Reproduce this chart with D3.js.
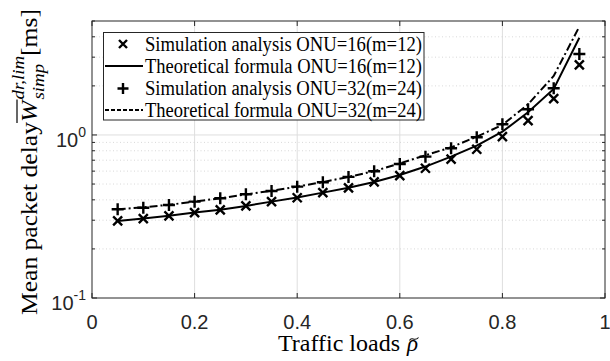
<!DOCTYPE html>
<html>
<head>
<meta charset="utf-8">
<script src="https://cdn.jsdelivr.net/npm/d3@7"></script>
<style>
  body { margin: 0; background: #fff; }
  svg { display: block; }
</style>
</head>
<body>
<div id="chart"></div>
<script>
var width = 610, height = 361
var margin = {top: 21, right: 5, bottom: 63, left: 92}

// traffic loads
var loads = [0.05, 0.1, 0.15, 0.2, 0.25, 0.3, 0.35, 0.4, 0.45, 0.5, 0.55, 0.6, 0.65, 0.7, 0.75, 0.8, 0.85, 0.9, 0.95]
// ONU=16 (m=12)
var sim16 = [0.297, 0.307, 0.319, 0.334, 0.347, 0.367, 0.390, 0.412, 0.443, 0.473, 0.515, 0.563, 0.625, 0.710, 0.817, 0.976, 1.224, 1.670, 2.688]
var theo16 = [0.297, 0.307, 0.319, 0.334, 0.348, 0.367, 0.390, 0.413, 0.443, 0.475, 0.515, 0.568, 0.640, 0.736, 0.860, 1.048, 1.378, 1.915, 3.95]
// ONU=32 (m=24)
var sim32 = [0.350, 0.358, 0.372, 0.390, 0.409, 0.433, 0.453, 0.482, 0.513, 0.553, 0.599, 0.664, 0.736, 0.829, 0.968, 1.163, 1.437, 1.934, 3.14]
var theo32 = [0.350, 0.360, 0.373, 0.390, 0.409, 0.432, 0.455, 0.482, 0.514, 0.553, 0.600, 0.670, 0.750, 0.840, 0.976, 1.152, 1.543, 2.30, 4.62]

var xTicks = [0, 0.2, 0.4, 0.6, 0.8, 1]
var xTickLabels = ["0", "0.2", "0.4", "0.6", "0.8", "1"]
var yMajor = [0.1, 1]
var yMajorExp = ["-1", "0"]
var yMinor = [0.2, 0.3, 0.4, 0.5, 0.6, 0.7, 0.8, 0.9, 2, 3, 4, 5]

var legendLabels = ["Simulation analysis ONU=16(m=12)", "Theoretical formula ONU=16(m=12)",
                    "Simulation analysis ONU=32(m=24)", "Theoretical formula ONU=32(m=24)"]

var axisColor = "#262626"
var serif = "'Liberation Serif', 'Times New Roman', serif"
var sans = "'Liberation Sans', Arial, sans-serif"

var svg = d3.select("#chart")
  .append("svg")
    .attr("width", width)
    .attr("height", height)

var x = d3.scaleLinear().domain([0, 1]).range([margin.left, width - margin.right])
var y = d3.scaleLog().domain([0.1, 5]).range([height - margin.bottom, margin.top])

var x0 = x(0), x1 = x(1), y0 = y(0.1), y1 = y(5)

// grid
var grid = svg.append("g")
grid.selectAll(".vg").data(xTicks.slice(1, -1)).enter().append("line")
  .attr("x1", d => x(d)).attr("x2", d => x(d))
  .attr("y1", y0).attr("y2", y1)
  .attr("stroke", "#dedede").attr("stroke-width", 1)
grid.selectAll(".hmin").data(yMinor.filter(d => d < 5)).enter().append("line")
  .attr("x1", x0).attr("x2", x1)
  .attr("y1", d => y(d)).attr("y2", d => y(d))
  .attr("stroke", "#cfcfcf").attr("stroke-width", 0.8)
  .attr("stroke-dasharray", "1,2.5")
grid.append("line")
  .attr("x1", x0).attr("x2", x1)
  .attr("y1", y(1)).attr("y2", y(1))
  .attr("stroke", "#dedede").attr("stroke-width", 1)

// axes: ticks inward, on both sides
var ax = svg.append("g").attr("stroke", axisColor).attr("stroke-width", 1).attr("fill", "none")
ax.append("rect").attr("x", x0).attr("y", y1).attr("width", x1 - x0).attr("height", y0 - y1)
xTicks.forEach(function(t) {
  ax.append("line").attr("x1", x(t)).attr("x2", x(t)).attr("y1", y0).attr("y2", y0 - 5)
  ax.append("line").attr("x1", x(t)).attr("x2", x(t)).attr("y1", y1).attr("y2", y1 + 5)
})
yMajor.concat(yMinor).forEach(function(t) {
  var len = yMajor.indexOf(t) >= 0 ? 5 : 3
  ax.append("line").attr("x1", x0).attr("x2", x0 + len).attr("y1", y(t)).attr("y2", y(t))
  ax.append("line").attr("x1", x1).attr("x2", x1 - len).attr("y1", y(t)).attr("y2", y(t))
})

// x tick labels
svg.selectAll(".xl").data(xTicks).enter().append("text")
  .attr("x", d => x(d)).attr("y", y0 + 31)
  .attr("text-anchor", "middle")
  .style("font-family", sans).style("font-size", "20px").style("fill", axisColor)
  .text((d, i) => xTickLabels[i])

// y tick labels 10^n
yMajor.forEach(function(t, i) {
  var tx = svg.append("text")
    .attr("x", x0 - 6).attr("y", y(t) + 12)
    .attr("text-anchor", "end")
    .style("font-family", sans).style("fill", axisColor)
  tx.append("tspan").style("font-size", "20px").text("10")
  tx.append("tspan").style("font-size", "14px").attr("dy", -10).text(yMajorExp[i])
})

// lines
var line = d3.line().x(d => x(d[0])).y(d => y(d[1]))
svg.append("path")
  .datum(loads.map((l, i) => [l, theo16[i]]))
  .attr("d", line).attr("fill", "none")
  .attr("stroke", "#000").attr("stroke-width", 2)
svg.append("path")
  .datum(loads.map((l, i) => [l, theo32[i]]))
  .attr("d", line).attr("fill", "none")
  .attr("stroke", "#000").attr("stroke-width", 2)
  .attr("stroke-dasharray", "8,3,2,3")

// markers
function cross(g, cx, cy, s) {
  g.append("path")
    .attr("d", `M${cx - s},${cy - s}L${cx + s},${cy + s}M${cx - s},${cy + s}L${cx + s},${cy - s}`)
    .attr("stroke", "#000").attr("stroke-width", 2.4).attr("fill", "none")
}
function plus(g, cx, cy, s) {
  g.append("path")
    .attr("d", `M${cx - s},${cy}L${cx + s},${cy}M${cx},${cy - s}L${cx},${cy + s}`)
    .attr("stroke", "#000").attr("stroke-width", 2.4).attr("fill", "none")
}
var marks = svg.append("g")
loads.forEach(function(l, i) {
  cross(marks, x(l), y(sim16[i]), 4.5)
  plus(marks, x(l), y(sim32[i]), 6)
})

// legend
var leg = svg.append("g")
leg.append("rect")
  .attr("x", 103.5).attr("y", 32.5).attr("width", 320.5).attr("height", 87.5)
  .attr("fill", "#fff").attr("stroke", axisColor).attr("stroke-width", 1)
var rowY = [44, 66, 88.5, 110]
cross(leg, 123, rowY[0], 4)
leg.append("line").attr("x1", 105).attr("x2", 143).attr("y1", rowY[1]).attr("y2", rowY[1])
  .attr("stroke", "#000").attr("stroke-width", 2)
plus(leg, 123, rowY[2], 5.5)
leg.append("line").attr("x1", 105).attr("x2", 143).attr("y1", rowY[3]).attr("y2", rowY[3])
  .attr("stroke", "#000").attr("stroke-width", 2).attr("stroke-dasharray", "4,2")
leg.selectAll(".lt").data(legendLabels).enter().append("text")
  .attr("x", 145).attr("y", (d, i) => rowY[i] + 6.5)
  .attr("textLength", 277).attr("lengthAdjust", "spacingAndGlyphs")
  .style("font-family", serif).style("font-size", "20px").style("fill", "#000")
  .text(d => d)

// x label
var xlab = svg.append("g")
xlab.append("text")
  .attr("x", 278).attr("y", 351)
  .attr("textLength", 122).attr("lengthAdjust", "spacingAndGlyphs")
  .style("font-family", serif).style("font-size", "23px").style("fill", "#000")
  .text("Traffic loads")
var rho = xlab.append("text")
  .attr("x", 407).attr("y", 351)
  .style("font-family", serif).style("font-size", "23px").style("font-style", "italic").style("fill", "#000")
  .text("\u03C1")
var rw = rho.node().getComputedTextLength()
var tc = 407 + rw / 2 + 1.5
// tilde accent over rho
xlab.append("path")
  .attr("d", `M${tc - 4.5},${340.5}C${tc - 2.5},${336} ${tc + 0.5},${342} ${tc + 4.5},${337.5}`)
  .attr("fill", "none").attr("stroke", "#000").attr("stroke-width", 1.1)

// y label, built from pieces
var yl = svg.append("g")
function piece(txt, size, italic) {
  return yl.append("text")
    .style("font-family", serif).style("font-size", size + "px")
    .style("font-style", italic ? "italic" : "normal").style("fill", "#000")
    .text(txt)
}
var p1 = piece("Mean packet delay ", 23, false)
var pW = piece("W", 23, true)
var pSup = piece("dr,lim", 17, true)
var pSub = piece("simp", 17, true)
var pEnd = piece(" [ms]", 23, false)
var w1 = p1.node().getComputedTextLength()
var wW = pW.node().getComputedTextLength()
var wS = Math.max(pSup.node().getComputedTextLength(), pSub.node().getComputedTextLength())
var wE = pEnd.node().getComputedTextLength()
var total = w1 + wW + 1 + wS + wE
var sx = -total / 2
p1.attr("x", sx).attr("y", 0)
pW.attr("x", sx + w1).attr("y", 0)
yl.append("line")
  .attr("x1", sx + w1 - 1).attr("x2", sx + w1 + wW + 1)
  .attr("y1", -20).attr("y2", -20)
  .attr("stroke", "#000").attr("stroke-width", 1.2)
pSup.attr("x", sx + w1 + wW + 1).attr("y", -13)
pSub.attr("x", sx + w1 + wW + 1).attr("y", 7)
pEnd.attr("x", sx + w1 + wW + 1 + wS).attr("y", 0)
var stretch = 306 / total
yl.attr("transform", `translate(37,162) rotate(-90) scale(${stretch},1)`)
</script>
</body>
</html>
